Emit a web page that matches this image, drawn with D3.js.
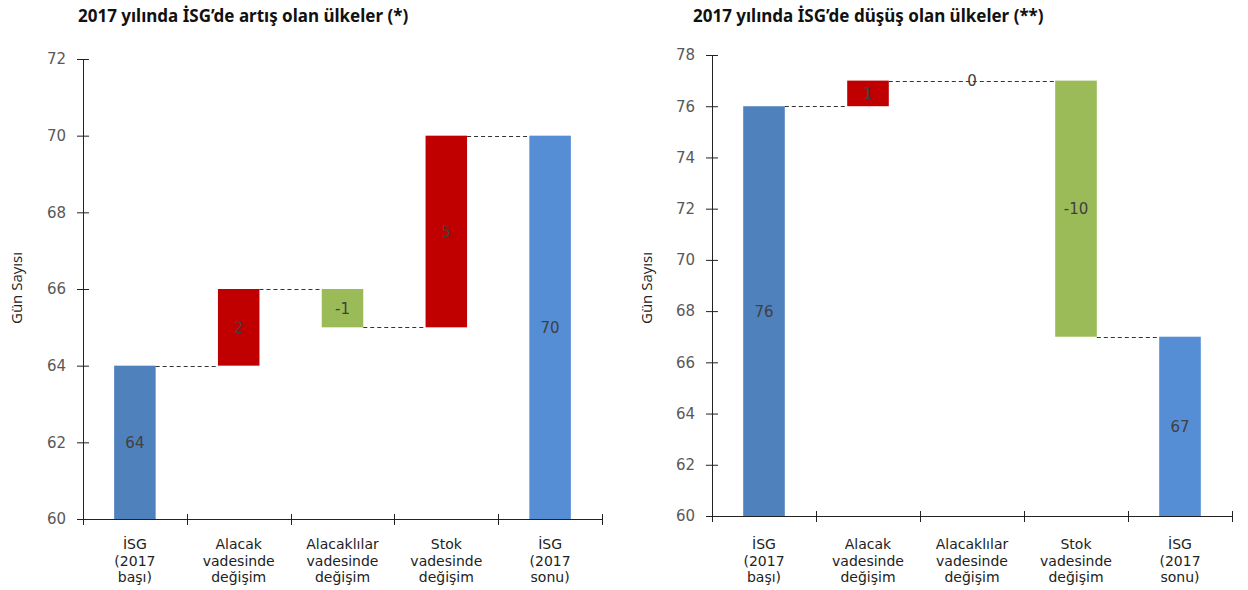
<!DOCTYPE html>
<html>
<head>
<meta charset="utf-8">
<script src="https://cdn.jsdelivr.net/npm/d3@7"></script>
<style>
  body { margin: 0; background: #fff; }
  svg { display: block; font-family: "DejaVu Sans", sans-serif; }
</style>
</head>
<body>
<svg id="chart" width="1248" height="590"></svg>
<script>
// Category labels (split into lines)
const categories = [
  ["İSG", "(2017", "başı)"],
  ["Alacak", "vadesinde", "değişim"],
  ["Alacaklılar", "vadesinde", "değişim"],
  ["Stok", "vadesinde", "değişim"],
  ["İSG", "(2017", "sonu)"]
];

// Left chart: countries with increase
const titleLeft = "2017 yılında İSG’de artış olan ülkeler (*)";
const startLeft = 64;
const changesLeft = [2, -1, 5];
const endLeft = 70;
const ticksLeft = [60, 62, 64, 66, 68, 70, 72];

// Right chart: countries with decrease
const titleRight = "2017 yılında İSG’de düşüş olan ülkeler (**)";
const startRight = 76;
const changesRight = [1, 0, -10];
const endRight = 67;
const ticksRight = [60, 62, 64, 66, 68, 70, 72, 74, 76, 78];

const yLabel = "Gün Sayısı";

const colors = {
  start: "#4f81bd",
  end: "#558ed5",
  up: "#c00000",
  down: "#9bbb59",
  connector: "#333",
  text: "#404040",
  tick: "#595959"
};

const svg = d3.select("#chart");

// Build floating bars: first/last from the baseline, the rest from the running total
function waterfall(start, changes, end, base) {
  const rows = [{ cat: 0, y0: base, y1: start, value: start, type: "start" }];
  let run = start;
  changes.forEach((c, i) => {
    const next = run + c;
    rows.push({
      cat: i + 1,
      y0: Math.min(run, next),
      y1: Math.max(run, next),
      value: c,
      type: c >= 0 ? "up" : "down"
    });
    run = next;
  });
  rows.push({ cat: changes.length + 1, y0: base, y1: end, value: end, type: "end" });
  return rows;
}

function drawChart(opt) {
  const g = svg.append("g");
  const base = opt.ticks[0];
  const x = d3.scaleBand().domain(d3.range(5)).range([opt.x0, opt.x1]).paddingInner(0.6).paddingOuter(0.3);
  const xb = d3.scaleBand().domain(d3.range(5)).range([opt.x0, opt.x1]);
  const y = d3.scaleLinear().domain([base, opt.ticks[opt.ticks.length - 1]]).range([opt.yBottom, opt.yTop]);

  const rows = waterfall(opt.start, opt.changes, opt.end, base);

  // Title
  g.append("text")
    .attr("x", opt.titleX).attr("y", 22)
    .attr("font-family", "\"Noto Sans\", sans-serif")
    .attr("font-size", 17).attr("font-weight", "bold").attr("fill", "#111")
    .text(opt.title);

  // Y axis label
  g.append("text")
    .attr("transform", `translate(${opt.labelX},${opt.labelY}) rotate(-90)`)
    .attr("font-family", "\"Open Sans\", sans-serif")
    .attr("text-anchor", "middle").attr("font-size", 15).attr("fill", "#222")
    .text(yLabel);

  // Bars
  g.selectAll("rect.bar").data(rows).enter().append("rect")
    .attr("class", "bar")
    .attr("x", d => x(d.cat))
    .attr("width", x.bandwidth())
    .attr("y", d => y(d.y1))
    .attr("height", d => Math.max(0, y(d.y0) - y(d.y1)))
    .attr("fill", d => colors[d.type]);

  // Dashed connectors at the running total between neighbouring bars
  const levels = [opt.start];
  let run = opt.start;
  opt.changes.forEach(c => { run += c; levels.push(run); });
  const conn = [];
  levels.forEach((lv, i) => {
    let j = i + 1;
    // carry the line across zero-height steps
    while (j < rows.length - 1 && rows[j].value === 0) j++;
    if (i > 0 && rows[i].value === 0) return;
    conn.push({ lv, xa: x(i) + x.bandwidth(), xz: x(j) });
  });
  g.selectAll("line.conn").data(conn).enter().append("line")
    .attr("x1", d => d.xa).attr("x2", d => d.xz)
    .attr("y1", d => Math.round(y(d.lv)) + 0.5)
    .attr("y2", d => Math.round(y(d.lv)) + 0.5)
    .attr("stroke", colors.connector).attr("stroke-width", 1.2)
    .attr("stroke-dasharray", "4,3");

  // Value labels
  g.selectAll("text.val").data(rows).enter().append("text")
    .attr("x", d => x(d.cat) + x.bandwidth() / 2)
    .attr("y", d => (y(d.y0) + y(d.y1)) / 2)
    .attr("dy", "0.36em")
    .attr("text-anchor", "middle").attr("font-size", 15).attr("fill", colors.text)
    .text(d => d.value);

  // Y axis with crossing ticks
  const yAxis = g.append("g").attr("transform", `translate(${opt.x0},0)`)
    .call(d3.axisLeft(y).tickValues(opt.ticks).tickSizeInner(6).tickSizeOuter(0).tickPadding(11));
  yAxis.selectAll(".tick line").attr("x2", 6).attr("x1", -6).attr("stroke", "#222");
  yAxis.select(".domain").attr("stroke", "#222").attr("d", `M0.5,${opt.yTop}V${opt.yBottom}`);
  yAxis.selectAll(".tick text").attr("font-size", 15).attr("fill", colors.tick)
    .attr("font-family", "\"DejaVu Sans\", sans-serif");

  // X axis with ticks at the category boundaries
  const xa = g.append("g").attr("transform", `translate(0,${opt.yBottom})`);
  xa.append("line").attr("x1", opt.x0).attr("x2", opt.x1)
    .attr("y1", 0.5).attr("y2", 0.5).attr("stroke", "#222");
  const bounds = d3.range(6).map(i => i < 5 ? xb(i) : xb(4) + xb.bandwidth());
  xa.selectAll("line.tk").data(bounds).enter().append("line")
    .attr("x1", d => Math.round(d) + 0.5).attr("x2", d => Math.round(d) + 0.5)
    .attr("y1", -5).attr("y2", 6).attr("stroke", "#222");

  // Category labels
  const lab = xa.selectAll("text.cat").data(categories).enter().append("text")
    .attr("text-anchor", "middle").attr("font-size", 14).attr("fill", "#222")
    .attr("transform", (d, i) => `translate(${xb(i) + xb.bandwidth() / 2},0)`);
  lab.selectAll("tspan").data(d => d).enter().append("tspan")
    .attr("x", 0).attr("y", (d, i) => opt.catY + i * 16.5)
    .text(d => d);
}

drawChart({
  title: titleLeft, titleX: 78, labelX: 22, labelY: 288, catY: 30,
  x0: 83, x1: 602, yTop: 59, yBottom: 519,
  start: startLeft, changes: changesLeft, end: endLeft, ticks: ticksLeft
});

drawChart({
  title: titleRight, titleX: 693, labelX: 652, labelY: 288, catY: 33,
  x0: 712, x1: 1232, yTop: 55, yBottom: 516,
  start: startRight, changes: changesRight, end: endRight, ticks: ticksRight
});
</script>
</body>
</html>
